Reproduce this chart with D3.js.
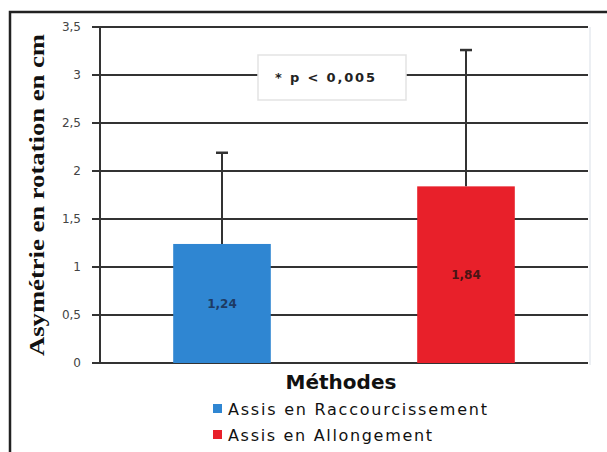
<!DOCTYPE html>
<html>
<head>
<meta charset="utf-8">
<script src="https://cdn.jsdelivr.net/npm/d3@7"></script>
<style>
  body { margin: 0; background: #fff; }
  svg { display: block; }
</style>
</head>
<body>
<svg width="607" height="452"></svg>
<script>
// data
const series = ['Assis en Raccourcissement', 'Assis en Allongement'];
const means = [1.24, 1.84];
const errors = [0.95, 1.42];
const labels = ['1,24', '1,84'];
const yTicks = [0, 0.5, 1, 1.5, 2, 2.5, 3, 3.5];
const colors = ['#2f86d2', '#e8202a'];
const labelColors = ['#1d3a63', '#4a1414'];
const legendLengths = [259, 204];

const svg = d3.select('svg');
const margin = { left: 100, right: 588, top: 27, bottom: 363 };

const x = d3.scaleBand().domain(series).range([margin.left, margin.right]).padding(0);
const y = d3.scaleLinear().domain([0, 3.5]).range([margin.bottom, margin.top]);
const barW = x.bandwidth() * 0.4;

// outer frame
svg.append('path')
  .attr('d', 'M10,452 V12 H607')
  .attr('fill', 'none')
  .attr('stroke', '#222')
  .attr('stroke-width', 2.5);

// faint plot border on the right
svg.append('line')
  .attr('x1', 590).attr('x2', 590).attr('y1', 27).attr('y2', 365)
  .attr('stroke', '#eceff3').attr('stroke-width', 2);

// gridlines + ticks
const grid = svg.append('g');
grid.selectAll('line')
  .data(yTicks)
  .enter()
  .append('line')
  .attr('x1', margin.left - 8)
  .attr('x2', margin.right)
  .attr('y1', d => y(d))
  .attr('y2', d => y(d))
  .attr('stroke', '#333')
  .attr('stroke-width', 2);

grid.selectAll('text')
  .data(yTicks)
  .enter()
  .append('text')
  .attr('x', 81)
  .attr('y', d => y(d))
  .attr('dy', '0.35em')
  .attr('text-anchor', 'end')
  .style('font', '12px "DejaVu Sans", sans-serif')
  .attr('fill', '#444')
  .text(d => d3.format('.1~f')(d).replace('.', ','));

// y axis line
svg.append('line')
  .attr('x1', margin.left).attr('x2', margin.left)
  .attr('y1', margin.top).attr('y2', margin.bottom)
  .attr('stroke', '#333').attr('stroke-width', 2);

// bars
svg.append('g')
  .selectAll('rect')
  .data(series)
  .enter()
  .append('rect')
  .attr('x', d => x(d) + x.bandwidth() / 2 - barW / 2)
  .attr('y', (d, i) => y(means[i]))
  .attr('width', barW)
  .attr('height', (d, i) => y(0) - y(means[i]))
  .attr('fill', (d, i) => colors[i]);

// error bars (upper only)
const err = svg.append('g').attr('stroke', '#333').attr('stroke-width', 2);
series.forEach((s, i) => {
  const cx = x(s) + x.bandwidth() / 2;
  err.append('line')
    .attr('x1', cx).attr('x2', cx)
    .attr('y1', y(means[i])).attr('y2', y(means[i] + errors[i]));
  err.append('line')
    .attr('x1', cx - 6).attr('x2', cx + 6)
    .attr('y1', y(means[i] + errors[i])).attr('y2', y(means[i] + errors[i]))
    .attr('stroke-width', 2.5);
});

// value labels inside bars
svg.append('g')
  .selectAll('text')
  .data(series)
  .enter()
  .append('text')
  .attr('x', d => x(d) + x.bandwidth() / 2)
  .attr('y', (d, i) => y(means[i] / 2))
  .attr('dy', '0.35em')
  .attr('text-anchor', 'middle')
  .style('font', 'bold 12px "DejaVu Sans", sans-serif')
  .attr('fill', (d, i) => labelColors[i])
  .text((d, i) => labels[i]);

// p-value box
svg.append('rect')
  .attr('x', 258).attr('y', 55)
  .attr('width', 148).attr('height', 45)
  .attr('fill', '#fff')
  .attr('stroke', '#e3e3e3')
  .attr('stroke-width', 1.5);
svg.append('text')
  .attr('x', 275).attr('y', 82)
  .attr('textLength', 100)
  .attr('lengthAdjust', 'spacing')
  .style('font', 'bold 13px "DejaVu Sans", sans-serif')
  .attr('fill', '#222')
  .text('* p < 0,005');

// y axis title
svg.append('text')
  .attr('transform', 'translate(44,195) rotate(-90)')
  .attr('text-anchor', 'middle')
  .attr('textLength', 322)
  .attr('lengthAdjust', 'spacingAndGlyphs')
  .style('font', 'bold 21px "Liberation Serif", serif')
  .attr('fill', '#111')
  .text('Asymétrie en rotation en cm');

// x axis title
svg.append('text')
  .attr('x', 341).attr('y', 389)
  .attr('text-anchor', 'middle')
  .style('font', 'bold 20px "DejaVu Sans", sans-serif')
  .attr('fill', '#111')
  .text('Méthodes');

// legend
const legend = svg.append('g')
  .selectAll('g')
  .data(series)
  .enter()
  .append('g')
  .attr('transform', (d, i) => `translate(213,${404 + i * 26})`);
legend.append('rect')
  .attr('width', 9).attr('height', 9)
  .attr('fill', (d, i) => colors[i]);
legend.append('text')
  .attr('x', 15).attr('y', 5)
  .attr('dy', '0.35em')
  .attr('textLength', (d, i) => legendLengths[i])
  .attr('lengthAdjust', 'spacing')
  .style('font', '16px "DejaVu Sans", sans-serif')
  .attr('fill', '#111')
  .text(d => d);
</script>
</body>
</html>
